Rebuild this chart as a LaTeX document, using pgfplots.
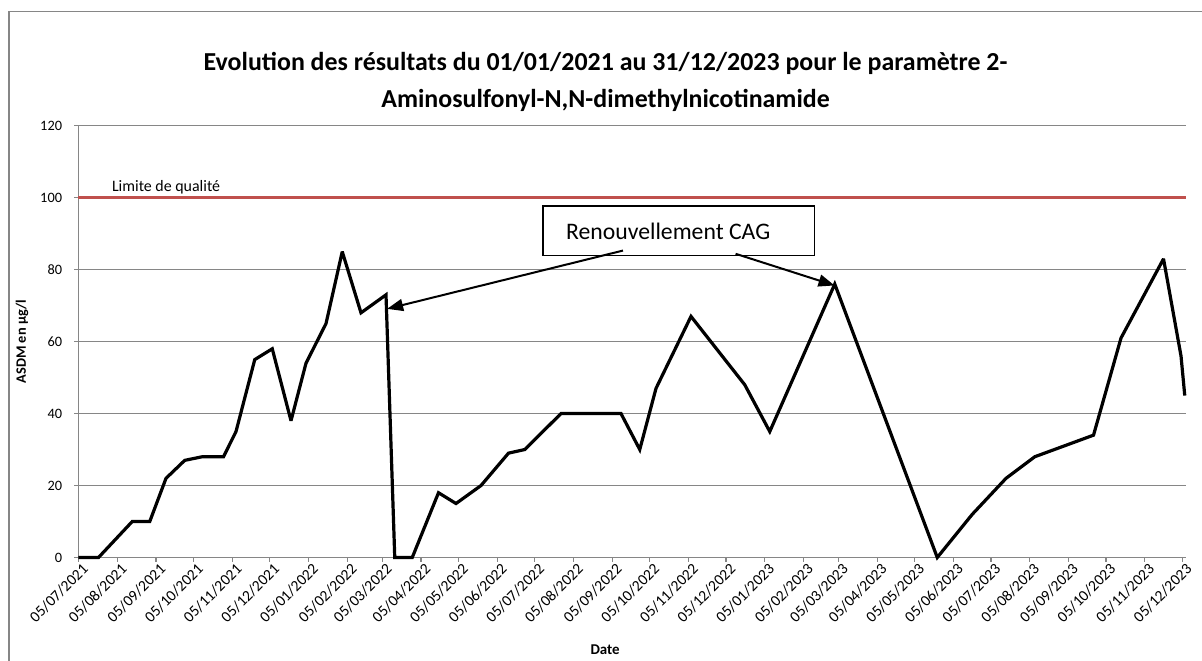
\documentclass[border=0pt]{standalone}
\usepackage{fontspec}
\setmainfont{Carlito}
\usepackage{pgfplots}
\pgfplotsset{compat=1.18}
\usetikzlibrary{arrows.meta}

\definecolor{limred}{RGB}{192,80,77}
\definecolor{gridgray}{RGB}{134,134,134}

\begin{document}
\begin{tikzpicture}
% page = 1202 x 661 px at 0.5bp per px, origin at the axis corner
\useasboundingbox (-39.25bp,-51.75bp) rectangle (561.75bp,278.75bp);
\draw[gridgray, line width=0.8bp] (-34.6bp,-60bp) -- (-34.6bp,272.9bp) -- (570bp,272.9bp);

\begin{axis}[
  scale only axis,
  width=553.75bp, height=215.9bp,
  xmin=0, xmax=886,
  ymin=0, ymax=120,
  ytick={0,20,...,120},
  xtick={0,31,62,92,123,153,184,215,243,274,304,335,365,396,427,457,488,518,549,580,608,639,669,700,730,761,792,822,853,883},
  xticklabels={05/07/2021,05/08/2021,05/09/2021,05/10/2021,05/11/2021,05/12/2021,05/01/2022,05/02/2022,05/03/2022,05/04/2022,05/05/2022,05/06/2022,05/07/2022,05/08/2022,05/09/2022,05/10/2022,05/11/2022,05/12/2022,05/01/2023,05/02/2023,05/03/2023,05/04/2023,05/05/2023,05/06/2023,05/07/2023,05/08/2023,05/09/2023,05/10/2023,05/11/2023,05/12/2023},
  axis x line=bottom, axis y line=left,
  axis line style={-, gridgray, line width=0.6bp},
  tick align=outside,
  major tick length=2.2bp,
  tick style={gridgray, line width=0.6bp},
  ymajorgrids,
  major grid style={gridgray, line width=0.6bp},
  /pgf/number format/assume math mode=true,
  yticklabel style={font=\fontsize{7.2}{8.6}\selectfont, xshift=-2.5bp},
  xticklabel style={font=\fontsize{7.8}{9.4}\selectfont, rotate=45, anchor=north east, inner sep=1bp, xshift=2bp},
  xlabel={Date},
  xlabel style={font=\bfseries\fontsize{7.5}{9}\selectfont, at={(rel axis cs:0.4755,0)}, anchor=center, yshift=-46.25bp},
  ylabel={ASDM en µg/l},
  ylabel style={font=\bfseries\fontsize{7.2}{8.6}\selectfont, at={(rel axis cs:0,0.5)}, anchor=center, yshift=28.25bp},
  clip=false,
]
% quality limit
\addplot[limred, line width=1.6bp] coordinates {(0,100) (886,100)};
% ASDM results (days since 05/07/2021)
\addplot[black, line width=1.6bp, line join=miter, miter limit=3] coordinates {
  (0,0) (16,0) (43,10) (57,10) (70,22) (85,27) (99,28) (116,28) (126,35)
  (141,55) (155,58) (170,38) (182,54) (198,65) (211,85) (226,68) (246,73)
  (253,0) (267,0) (288,18) (302,15) (322,20) (344,29) (357,30) (386,40)
  (434,40) (449,30) (462,47) (490,67) (533,48) (553,35) (605,76) (687,0)
  (715,12) (742,22) (765,28) (812,34) (834,61) (868,83) (882,56) (885,45)
};
\node[anchor=base west, font=\fontsize{8}{9.6}\selectfont, inner sep=0pt] at (axis cs:26.5,101.8) {Limite de qualité};
\draw[black, line width=0.75bp, fill=white] (axis cs:371.6,97.7) rectangle (axis cs:588.8,83.9);
\node[anchor=west, font=\fontsize{11.9}{14}\selectfont, inner sep=0pt] at (axis cs:389.8,90.6) {Renouvellement CAG};
\draw[black, line width=1bp, -{Triangle[length=8bp,width=6bp]}] (axis cs:435.6,85.3) -- (axis cs:246.9,69.1);
\draw[black, line width=1bp, -{Triangle[length=8bp,width=6bp]}] (axis cs:525.7,84.4) -- (axis cs:604.8,75.6);
\end{axis}

\node[font=\bfseries\fontsize{13}{13}\selectfont, anchor=base, inner sep=0pt] at (263.5bp,243.4bp)
  {Evolution des résultats du 01/01/2021 au 31/12/2023 pour le paramètre 2-};
\node[font=\bfseries\fontsize{13}{13}\selectfont, anchor=base, inner sep=0pt] at (263.5bp,224.75bp)
  {Aminosulfonyl-N,N-dimethylnicotinamide};
\end{tikzpicture}
\end{document}
